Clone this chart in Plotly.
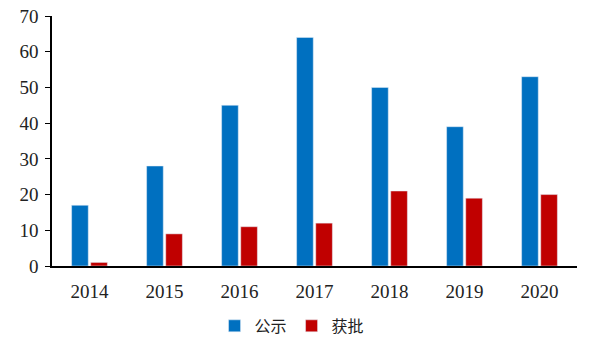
import plotly.graph_objects as go

years = ["2014", "2015", "2016", "2017", "2018", "2019", "2020"]
gongshi = [17, 28, 45, 64, 50, 39, 53]
huopi = [1, 9, 11, 12, 21, 19, 20]
y_ticks = [0, 10, 20, 30, 40, 50, 60, 70]

fig = go.Figure()
fig.add_trace(go.Bar(x=years, y=gongshi, name="公示", marker_color="#0070C0"))
fig.add_trace(go.Bar(x=years, y=huopi, name="获批", marker_color="#C00000"))

fig.update_layout(
    width=596, height=342,
    margin=dict(l=52, r=19, t=16, b=76, autoexpand=False),
    paper_bgcolor="white", plot_bgcolor="white",
    barmode="group", bargap=0.49, bargroupgap=0.13,
    font=dict(family="Liberation Serif", size=18, color="#222"),
    showlegend=True,
    legend=dict(orientation="h", xref="container", yref="container",
                x=0.49, xanchor="center", y=0.047, yanchor="middle",
                font=dict(family="Noto Sans CJK SC", size=16, color="#222"),
                itemwidth=30, traceorder="normal"),
)
fig.update_xaxes(showline=True, linecolor="black", linewidth=1.5, ticks="",
                 showgrid=False, ticklabelstandoff=7,
                 tickfont=dict(family="Liberation Serif", size=19))
fig.update_yaxes(range=[0, 70], tickvals=y_ticks, showline=True, linecolor="black",
                 linewidth=1.5, ticks="outside", ticklen=5, tickcolor="black",
                 showgrid=False, zeroline=False, ticklabelstandoff=3,
                 tickfont=dict(family="Liberation Serif", size=19))

fig.write_html("out.html")
